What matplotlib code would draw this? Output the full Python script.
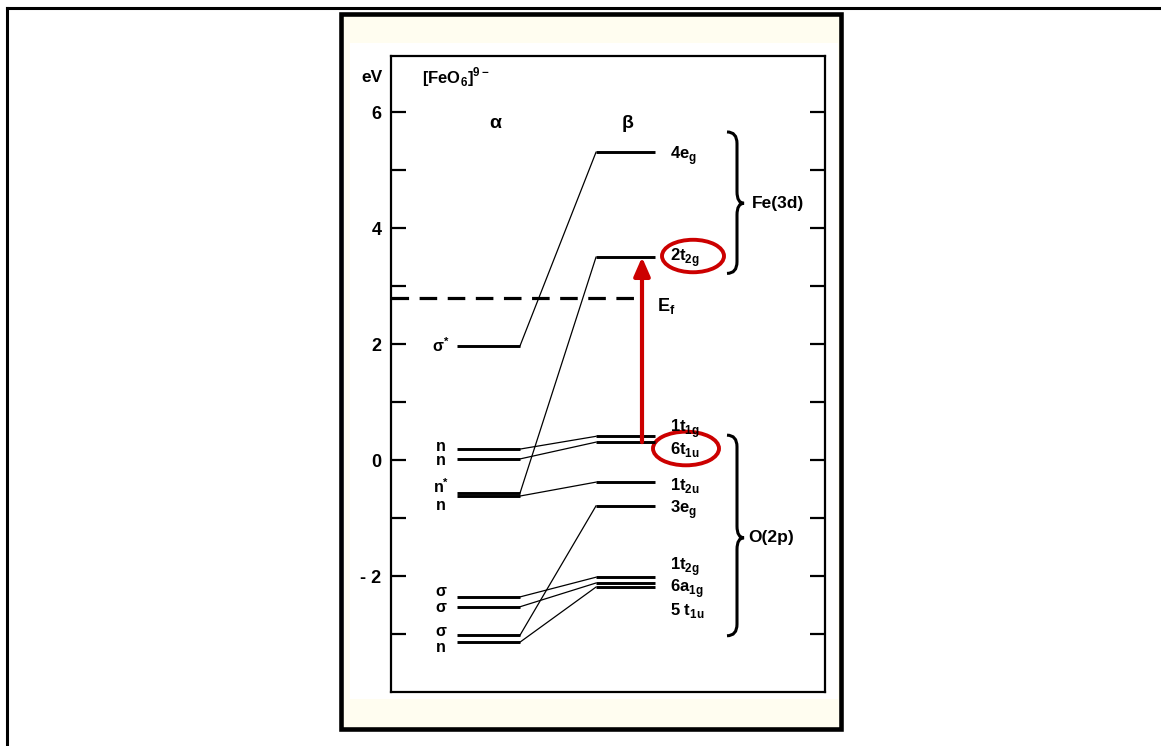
import matplotlib
matplotlib.use("Agg")
import matplotlib.pyplot as plt
from matplotlib.patches import Rectangle, Ellipse, PathPatch
from matplotlib.path import Path
from matplotlib.lines import Line2D

plt.rcParams['font.family'] = ['Liberation Sans', 'DejaVu Sans']
plt.rcParams['font.weight'] = 'bold'

# orbital energies (eV), alpha column and beta column
alpha_labels = ['σ$^\\mathregular{*}$', 'n', 'n', 'n$^\\mathregular{*}$', 'n', 'σ', 'σ', 'σ', 'n']
alpha_e = [1.97, 0.19, 0.02, -0.57, -0.62, -2.36, -2.53, -3.02, -3.14]

beta_labels = ['4e$_\\mathregular{g}$', '2t$_\\mathregular{2g}$', '1t$_\\mathregular{1g}$',
               '6t$_\\mathregular{1u}$', '1t$_\\mathregular{2u}$', '3e$_\\mathregular{g}$',
               '1t$_\\mathregular{2g}$', '6a$_\\mathregular{1g}$', '5 t$_\\mathregular{1u}$']
beta_e = [5.31, 3.50, 0.41, 0.31, -0.38, -0.79, -2.02, -2.12, -2.19]

# which alpha level correlates with which beta level
links = [(0, 0), (1, 2), (2, 3), (3, 1), (4, 4), (5, 6), (6, 7), (7, 5), (8, 8)]

fermi = 2.8
y_ticks = [-2, 0, 2, 4, 6]
y_ticklabels = ['- 2', '0', '2', '4', '6']
y_minor = [-3, -1, 1, 3, 5]

# label placement
alpha_label_y = [1.98, 0.24, 0.0, -0.46, -0.78, -2.27, -2.54, -2.95, -3.24]
beta_label_y = [5.26, 3.50, 0.54, 0.19, -0.43, -0.86, -1.84, -2.22, -2.59]

W, H = 1161, 746
fig = plt.figure(figsize=(W / 100, H / 100), dpi=100)
fig.patch.set_facecolor('white')


def fx(px):
    return px / W


def fy(py):
    return 1 - py / H


# page frame
fig.add_artist(Line2D([fx(7), 1], [fy(8), fy(8)], color='black', lw=2.2))
fig.add_artist(Line2D([fx(7), fx(7)], [fy(8), 0], color='black', lw=2.2))
fig.add_artist(Rectangle((fx(341), fy(729)), fx(841) - fx(341), fy(14) - fy(729),
                         transform=fig.transFigure, facecolor='#fffdf0',
                         edgecolor='black', lw=3.3, zorder=-2))
fig.add_artist(Rectangle((fx(350), fy(699)), fx(838) - fx(350), fy(43) - fy(699),
                         transform=fig.transFigure, facecolor='white',
                         edgecolor='none', zorder=-1))

ax = fig.add_axes([fx(391), fy(692), fx(825) - fx(391), fy(56) - fy(692)])
ax.set_facecolor('none')
ax.set_zorder(1)
ax.set_xlim(0, 434)
ax.set_ylim(-4, 6.97)
for s in ax.spines.values():
    s.set_linewidth(1.6)
ax.set_xticks([])
ax.set_yticks(y_ticks, y_ticklabels)
ax.set_yticks(y_minor, minor=True)
ax.tick_params(axis='y', which='both', direction='in', length=11, width=1.6,
               left=True, right=True, labelsize=13, pad=7)

# energy levels
for e, lab, ly in zip(alpha_e, alpha_labels, alpha_label_y):
    ax.plot([66, 129], [e, e], color='black', lw=2.1, solid_capstyle='butt')
    ax.text(50, ly, lab, ha='center', va='center', fontsize=11.5)

for e, lab, ly in zip(beta_e, beta_labels, beta_label_y):
    ax.plot([205, 264], [e, e], color='black', lw=2.1, solid_capstyle='butt')
    ax.text(279, ly, lab, ha='left', va='center', fontsize=12)

for i, j in links:
    ax.plot([129, 205], [alpha_e[i], beta_e[j]], color='black', lw=0.9)

# Fermi level
ax.plot([0, 247], [fermi, fermi], color='black', lw=2.3, ls=(0, (5.5, 3.3)))
ax.text(266, fermi - 0.15, 'E$_\\mathregular{f}$', ha='left', va='center', fontsize=13)

# excitation 6t1u -> 2t2g
red = '#cc0000'
ax.annotate('', xy=(251, beta_e[1]), xytext=(251, beta_e[3]),
            arrowprops=dict(arrowstyle='-|>,head_length=0.8,head_width=0.35',
                            color=red, lw=3, shrinkA=0, shrinkB=0, mutation_scale=14))
ax.add_patch(Ellipse((302, 3.52), 62, 0.56, fill=False, ec=red, lw=2.8))
ax.add_patch(Ellipse((295, 0.20), 66, 0.58, fill=False, ec=red, lw=2.8))


def brace(y_top, y_bot, y_tip, x=346, w=10, r=0.2):
    verts = [(x - w, y_top), (x, y_top), (x, y_top - r),
             (x, y_tip + r),
             (x, y_tip), (x + w * 0.7, y_tip),
             (x, y_tip), (x, y_tip - r),
             (x, y_bot + r),
             (x, y_bot), (x - w, y_bot)]
    codes = [Path.MOVETO, Path.CURVE3, Path.CURVE3,
             Path.LINETO,
             Path.CURVE3, Path.CURVE3,
             Path.CURVE3, Path.CURVE3,
             Path.LINETO,
             Path.CURVE3, Path.CURVE3]
    ax.add_patch(PathPatch(Path(verts, codes), fill=False, ec='black', lw=2.2))


brace(5.66, 3.22, 4.43)
brace(0.43, -3.03, -1.34)
ax.text(361, 4.43, 'Fe(3d)', ha='left', va='center', fontsize=12.5)
ax.text(357, -1.34, 'O(2p)', ha='left', va='center', fontsize=12.5)

# header
ax.text(-19, 6.6, 'eV', ha='center', va='center', fontsize=12.5, clip_on=False)
ax.text(31, 6.6, '[FeO$_\\mathregular{6}$]$^\\mathregular{9-}$', ha='left', va='center', fontsize=12)
ax.text(104, 5.8, 'α', ha='center', va='center', fontsize=14)
ax.text(237, 5.8, 'β', ha='center', va='center', fontsize=14)

fig.savefig('out.png', dpi=100)
